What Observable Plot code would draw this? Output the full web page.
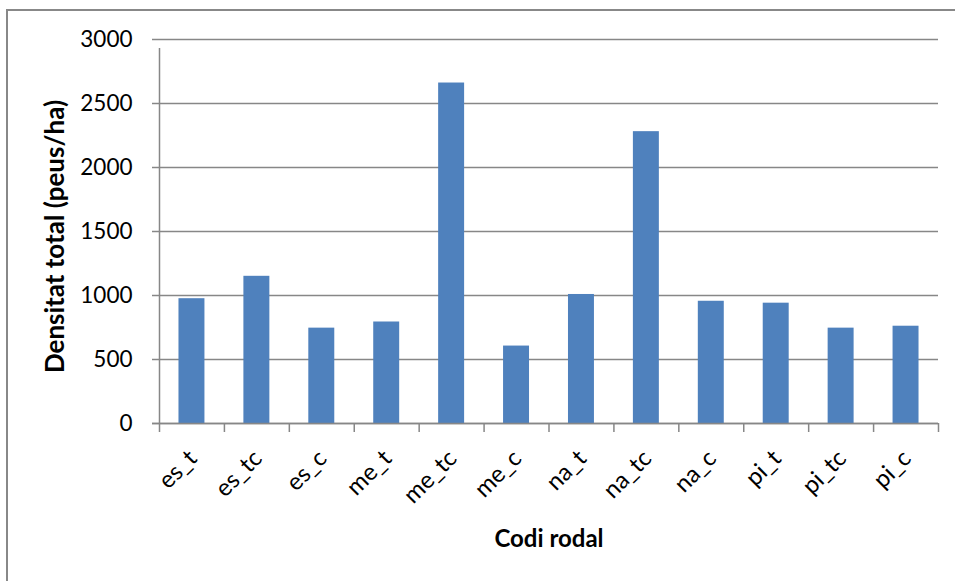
<!DOCTYPE html>
<html>
<head>
<meta charset="utf-8">
<script src="https://cdn.jsdelivr.net/npm/d3@7"></script>
<script src="https://cdn.jsdelivr.net/npm/@observablehq/plot@0.6"></script>
<style>
  html, body { margin: 0; padding: 0; background: #fff; }
  #wrap { position: relative; width: 955px; height: 581px; overflow: hidden; }
  #border { position: absolute; left: 6px; top: 9px; width: 2000px; height: 2000px;
            border-left: 2px solid #888; border-top: 2px solid #888; box-sizing: border-box; }
  #chart { position: absolute; left: 0; top: 0; }
</style>
</head>
<body>
<div id="wrap"><div id="border"></div><div id="chart"></div></div>
<script>
const categories = ["es_t","es_tc","es_c","me_t","me_tc","me_c","na_t","na_tc","na_c","pi_t","pi_tc","pi_c"];
const values = [975, 1150, 745, 793, 2660, 605, 1008, 2280, 955, 940, 745, 760];
const yTicks = [0, 500, 1000, 1500, 2000, 2500, 3000];
const xLabel = "Codi rodal";
const yLabel = "Densitat total (peus/ha)";

const data = categories.map((c, i) => ({cat: c, value: values[i]}));

const W = 955, H = 581, mL = 159, mR = 17, mT = 39, mB = 158;
const step = (W - mL - mR) / categories.length;
const grey = "#878787";
const font = "Lato, 'Open Sans', sans-serif";

const chart = Plot.plot({
  width: W, height: H,
  marginLeft: mL, marginRight: mR, marginTop: mT, marginBottom: mB,
  style: {fontFamily: font, fontSize: "22px", background: "transparent", color: "#000"},
  x: {domain: categories, paddingInner: 0.6, paddingOuter: 0.3, round: false},
  y: {domain: [0, 3000]},
  marks: [
    Plot.gridY(yTicks, {stroke: grey, strokeOpacity: 1, strokeWidth: 1.5, insetLeft: -7}),
    Plot.barY(data, {x: "cat", y: "value", fill: "#4F81BD"}),
    Plot.ruleY([0], {stroke: grey, strokeWidth: 1.5, insetLeft: -7}),
    Plot.ruleX([categories[0]], {y1: 0, y2: 3000, dx: -step / 2, stroke: grey, strokeWidth: 1.5, insetBottom: -9}),
    Plot.ruleX(categories, {x: d => d, y1: 0, y2: 0, dx: -step / 2, stroke: grey, strokeWidth: 1.5, insetBottom: -9}),
    Plot.ruleX([categories[categories.length - 1]], {y1: 0, y2: 0, dx: step / 2, stroke: grey, strokeWidth: 1.5, insetBottom: -9}),
    Plot.axisY(yTicks, {tickSize: 0, tickPadding: 27, fontSize: 22.5, tickFormat: d => String(d), label: null}),
    Plot.axisX({tickSize: 0, tickRotate: -45, tickPadding: 31, fontSize: 24, label: null, dx: 1}),
    Plot.text([xLabel], {frameAnchor: "bottom", text: d => d, dy: 123, fontSize: 24, fontWeight: "bold", fill: "#000"}),
    Plot.text([yLabel], {frameAnchor: "left", textAnchor: "middle", text: d => d, dx: -104, rotate: -90, fontSize: 26, fontWeight: "bold", fill: "#000", dy: 5})
  ]
});
document.getElementById("chart").appendChild(chart);
</script>
</body>
</html>
